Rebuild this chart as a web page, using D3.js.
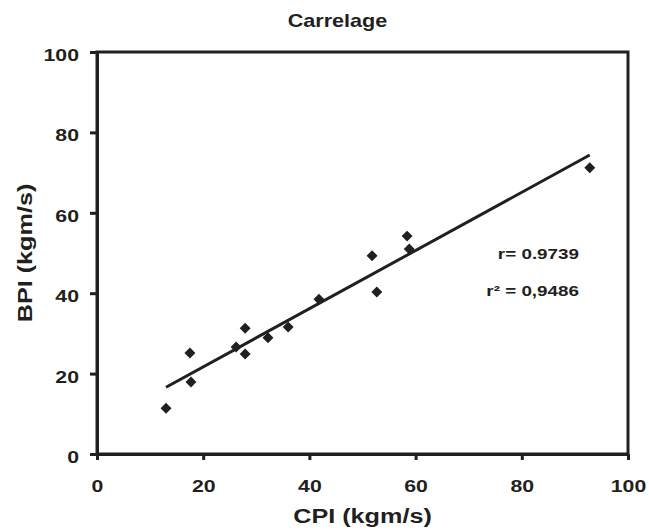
<!DOCTYPE html>
<html>
<head>
<meta charset="utf-8">
<script src="https://cdn.jsdelivr.net/npm/d3@7"></script>
<style>
  html, body { margin: 0; padding: 0; background: #fff; }
  svg { display: block; font-family: "Liberation Sans", Arial, sans-serif; }
</style>
</head>
<body>
<svg id="chart" width="649" height="531"></svg>
<script>
const title = "Carrelage";
const xLabel = "CPI (kgm/s)";
const yLabel = "BPI (kgm/s)";
const xTicks = [0, 20, 40, 60, 80, 100];
const yTicks = [0, 20, 40, 60, 80, 100];
const cpi = [13.0, 17.5, 17.7, 26.2, 27.9, 27.9, 32.2, 36.0, 41.8, 51.8, 52.7, 58.4, 58.8, 92.8];
const bpi = [11.4, 25.1, 17.9, 26.6, 31.3, 24.9, 28.9, 31.6, 38.5, 49.3, 40.3, 54.2, 51.0, 71.2];
const statLines = ["r= 0.9739", "r\u00B2 = 0,9486"];

const ink = "#231f20";
const font = "'Liberation Sans', Arial, sans-serif";
const m = { left: 97, top: 52, right: 21, bottom: 77 };
const W = 649, H = 531;
const svg = d3.select("#chart");

const x = d3.scaleLinear().domain([0, 100]).range([m.left, W - m.right]);
const y = d3.scaleLinear().domain([0, 100]).range([H - m.bottom, m.top]);

// helper: horizontally stretched bold text
function stretchedText(parent, tx, ty, size, sx, anchor, str, rot) {
  return parent.append("text")
    .attr("transform", `translate(${tx},${ty})${rot ? ` rotate(${rot})` : ""} scale(${sx},1)`)
    .attr("text-anchor", anchor)
    .attr("fill", ink)
    .style("font-family", font).style("font-size", size + "px").style("font-weight", "bold")
    .text(str);
}

// frame (top & right)
svg.append("rect")
  .attr("x", x(0)).attr("y", y(100))
  .attr("width", x(100) - x(0)).attr("height", y(0) - y(100))
  .attr("fill", "none").attr("stroke", ink).attr("stroke-width", 3);

const tickFont = 17, tickSx = 1.25;

// axes
const xAxis = svg.append("g").attr("transform", `translate(0,${y(0)})`)
  .call(d3.axisBottom(x).tickValues(xTicks).tickSizeOuter(0).tickSizeInner(6).tickPadding(20));
const yAxis = svg.append("g").attr("transform", `translate(${x(0)},0)`)
  .call(d3.axisLeft(y).tickValues(yTicks).tickSizeOuter(0).tickSizeInner(7).tickPadding(11));
[xAxis, yAxis].forEach(g => {
  g.select(".domain").attr("stroke", ink).attr("stroke-width", 3);
  g.selectAll(".tick line").attr("stroke", ink).attr("stroke-width", 3);
  g.selectAll(".tick text").attr("fill", ink)
    .style("font-family", font)
    .style("font-size", tickFont + "px").style("font-weight", "bold");
});
xAxis.selectAll(".tick text").attr("transform", `scale(${tickSx},1)`);
yAxis.selectAll(".tick text")
  .attr("x", -18 / tickSx).attr("dy", "0.5em")
  .attr("transform", `scale(${tickSx},1)`);

// regression line (least squares from data)
const mx = d3.mean(cpi), my = d3.mean(bpi);
const sxy = d3.sum(cpi, (v, i) => (v - mx) * (bpi[i] - my));
const sxx = d3.sum(cpi, v => (v - mx) * (v - mx));
const slope = sxy / sxx, icpt = my - slope * mx;
const xr = d3.extent(cpi);
svg.append("line")
  .attr("x1", x(xr[0])).attr("y1", y(icpt + slope * xr[0]))
  .attr("x2", x(xr[1])).attr("y2", y(icpt + slope * xr[1]))
  .attr("stroke", ink).attr("stroke-width", 3);

// points
const sym = d3.symbol().type(d3.symbolSquare).size(60);
svg.append("g").selectAll("path").data(cpi).join("path")
  .attr("d", sym)
  .attr("transform", (d, i) => `translate(${x(d)},${y(bpi[i])}) rotate(45)`)
  .attr("fill", ink);

// stats
statLines.forEach((s, i) => stretchedText(svg, 579, 259 + i * 36.5, 14.5, 1.3, "end", s));

// title
stretchedText(svg, 337.5, 27, 18, 1.2, "middle", title);

// axis titles
stretchedText(svg, (x(0) + x(100)) / 2, 523, 21, 1.2, "middle", xLabel);
stretchedText(svg, 31.5, (y(0) + y(100)) / 2, 21, 1.2, "middle", yLabel, -90);
</script>
</body>
</html>
